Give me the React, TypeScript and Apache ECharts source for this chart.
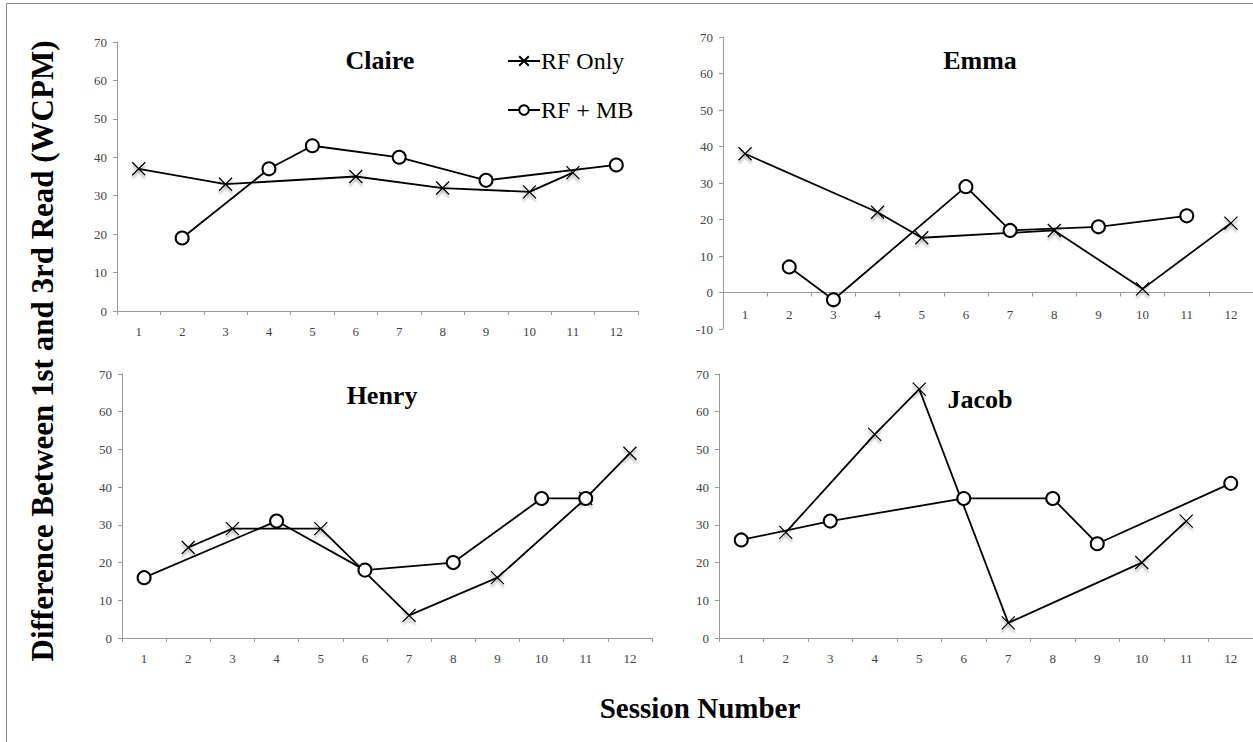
import React, { useEffect, useRef } from "react";
import * as echarts from "echarts";

const sessions = ["1", "2", "3", "4", "5", "6", "7", "8", "9", "10", "11", "12"];
const seriesNames = ["RF Only", "RF + MB"];
const students = ["Claire", "Emma", "Henry", "Jacob"];

const claireRFOnly = [37, null, 33, null, null, 35, null, 32, null, 31, 36, null];
const claireRFMB = [null, 19, null, 37, 43, null, 40, null, 34, null, null, 38];
const emmaRFOnly = [38, null, null, 22, 15, null, null, 17, null, 1, null, 19];
const emmaRFMB = [null, 7, -2, null, null, 29, 17, null, 18, null, 21, null];
const henryRFOnly = [null, 24, 29, null, 29, null, 6, null, 16, null, 37, 49];
const henryRFMB = [16, null, null, 31, null, 18, null, 20, null, 37, 37, null];
const jacobRFOnly = [null, 28, null, 54, 66, null, 4, null, null, 20, 31, null];
const jacobRFMB = [26, null, 31, null, null, 37, null, 37, 25, null, null, 41];

const yMinByPanel = [0, -10, 0, 0];
const yMax = 70;
const yInterval = 10;

const FONT = '"Liberation Serif", "Times New Roman", serif';
const X_SYMBOL = "path://M0,0L20,20M20,0L0,20";

export default function App() {
  const ref = useRef<HTMLDivElement>(null);

  useEffect(() => {
    document.body.style.margin = "0";
    if (!ref.current) return;
    const chart = echarts.init(ref.current, null, { renderer: "svg" });

    const grids = [
      { left: 117, top: 42, width: 521, height: 269 },
      { left: 723, top: 37, width: 530, height: 292 },
      { left: 122, top: 374, width: 530, height: 264 },
      { left: 719, top: 374, width: 534, height: 264 },
    ];
    const data = [
      [claireRFOnly, claireRFMB],
      [emmaRFOnly, emmaRFMB],
      [henryRFOnly, henryRFMB],
      [jacobRFOnly, jacobRFMB],
    ];
    const titlePos = [
      [375, 58],
      [975, 58],
      [377, 393],
      [975, 397],
    ];
    const xLabelMargin = [14, -21, 14, 14];

    const axisLine = { show: true, lineStyle: { color: "#9a9a9a", width: 1 } };
    const labelStyle = { fontFamily: FONT, fontSize: 13, color: "#444" };

    const xAxis = grids.map((_, i) => ({
      type: "category",
      gridIndex: i,
      data: sessions,
      boundaryGap: true,
      axisLine: { ...axisLine, onZero: true },
      axisTick: { show: true, length: 4, lineStyle: { color: "#9a9a9a" } },
      axisLabel: { ...labelStyle, margin: xLabelMargin[i] },
      splitLine: { show: false },
    }));
    const yAxis = grids.map((_, i) => ({
      type: "value",
      gridIndex: i,
      min: yMinByPanel[i],
      max: yMax,
      interval: yInterval,
      axisLine,
      axisTick: { show: true, length: 4, lineStyle: { color: "#9a9a9a" } },
      axisLabel: { ...labelStyle, margin: 10 },
      splitLine: { show: false },
    }));

    const series: any[] = [];
    data.forEach((pair, i) => {
      series.push({
        name: seriesNames[0],
        type: "line",
        xAxisIndex: i,
        yAxisIndex: i,
        data: pair[0],
        connectNulls: true,
        symbol: X_SYMBOL,
        symbolSize: 13,
        lineStyle: { color: "#000", width: 1.8 },
        itemStyle: {
          color: "none",
          borderColor: "#000",
          borderWidth: 1.3,
          shadowColor: "rgba(0,0,0,0.35)",
          shadowBlur: 2,
          shadowOffsetY: 3,
        },
        emphasis: { disabled: true },
        z: 2,
      });
      series.push({
        name: seriesNames[1],
        type: "line",
        xAxisIndex: i,
        yAxisIndex: i,
        data: pair[1],
        connectNulls: true,
        symbol: "emptyCircle",
        symbolSize: 13,
        lineStyle: { color: "#000", width: 1.8 },
        itemStyle: { color: "#000", borderColor: "#000", borderWidth: 1.3 },
        emphasis: { disabled: true },
        z: 3,
      });
    });

    const title = students.map((s, i) => ({
      text: s,
      left: titlePos[i][0],
      top: titlePos[i][1] - 16,
      textAlign: "center",
      textStyle: { fontFamily: FONT, fontSize: 26, fontWeight: "bold", color: "#000" },
    }));

    chart.setOption({
      animation: false,
      backgroundColor: "#fff",
      title,
      grid: grids,
      xAxis,
      yAxis,
      series,
      legend: {
        data: seriesNames,
        orient: "vertical",
        left: 502,
        top: 44,
        itemWidth: 32,
        itemHeight: 12,
        itemGap: 25,
        selectedMode: false,
        textStyle: { fontFamily: FONT, fontSize: 24, color: "#000", padding: [0, 0, 0, -4] },
      },
      graphic: [
        {
          type: "rect",
          shape: { x: 6.5, y: 3.5, width: 1300, height: 800 },
          style: { fill: "none", stroke: "#8a8a8a", lineWidth: 1 },
          silent: true,
        },
        {
          type: "text",
          x: 42,
          y: 351,
          rotation: Math.PI / 2,
          style: {
            text: "Difference Between 1st and 3rd Read (WCPM)",
            textAlign: "center",
            textVerticalAlign: "middle",
            font: `bold 31px ${FONT}`,
            fill: "#000",
          },
        },
        {
          type: "text",
          x: 700,
          y: 708,
          style: {
            text: "Session Number",
            textAlign: "center",
            textVerticalAlign: "middle",
            font: `bold 29px ${FONT}`,
            fill: "#000",
          },
        },
      ],
    });

    return () => chart.dispose();
  }, []);

  return <div ref={ref} style={{ width: 1253, height: 742 }} />;
}
